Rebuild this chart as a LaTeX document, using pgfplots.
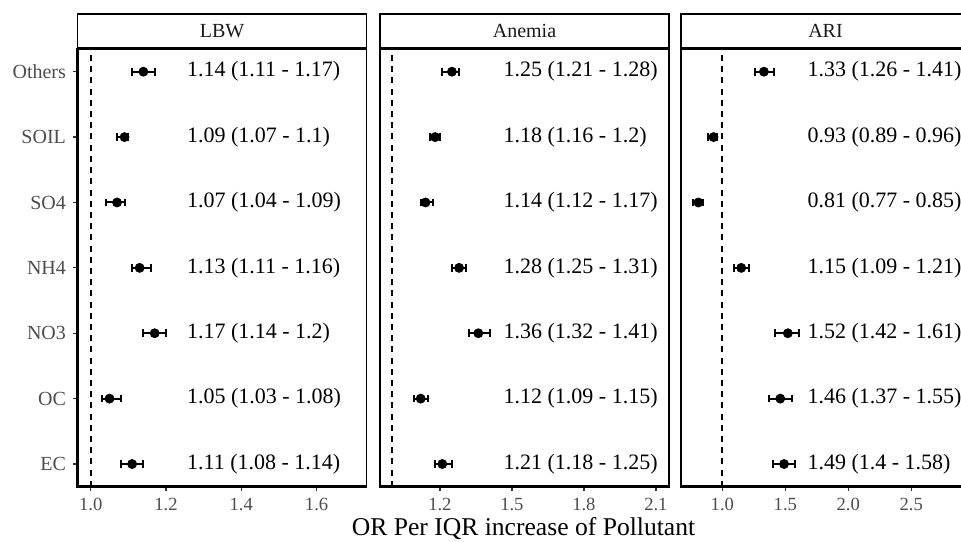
\documentclass[border=0pt]{standalone}
\usepackage{pgfplots}
\pgfplotsset{compat=1.18}
\usepackage{fontspec}
\setmainfont{Liberation Serif}
\definecolor{tickgray}{HTML}{4D4D4D}
\definecolor{tickmark}{HTML}{333333}
\definecolor{striptext}{HTML}{1A1A1A}

\pgfplotstableread{
y  or    ep    em
7  1.14  0.03  0.03
6  1.09  0.01  0.02
5  1.07  0.02  0.03
4  1.13  0.03  0.02
3  1.17  0.03  0.03
2  1.05  0.03  0.02
1  1.11  0.03  0.03
}\lbw
\pgfplotstableread{
y  or    ep    em
7  1.25  0.03  0.04
6  1.18  0.02  0.02
5  1.14  0.03  0.02
4  1.28  0.03  0.03
3  1.36  0.05  0.04
2  1.12  0.03  0.03
1  1.21  0.04  0.03
}\anemia
\pgfplotstableread{
y  or    ep    em
7  1.33  0.08  0.07
6  0.93  0.03  0.04
5  0.81  0.04  0.04
4  1.15  0.06  0.06
3  1.52  0.09  0.10
2  1.46  0.09  0.09
1  1.49  0.09  0.09
}\ari

\pgfplotsset{
  panel/.style={
    scale only axis, width=144.5pt, height=219.2pt,
    anchor=south west,
    ymin=0.653, ymax=7.358,
    axis line style={line width=0.9pt},
    tick style={line width=0.6pt, color=tickmark},
    tick align=outside, major tick length=2.25pt,
    xtick pos=bottom, ytick pos=left,
    ticklabel style={font=\fontsize{9.3}{11}\selectfont, text=tickgray},
    /pgf/number format/assume math mode=true,
    /pgf/number format/fixed, /pgf/number format/fixed zerofill,
    /pgf/number format/precision=1,
    clip=false,
  },
  pts/.style={black, only marks, mark=*, mark size=2.25pt,
    error bars/.cd, x dir=both, x explicit,
    error bar style={line width=1pt, black},
    error mark options={rotate=90, mark size=1.9pt, line width=1pt, black}},
  lbl/.style={only marks, mark=none, nodes near coords,
    point meta=explicit symbolic,
    every node near coord/.append style={anchor=west, inner xsep=0pt,
      font=\fontsize{11}{13}\selectfont, text=black}},
  vline/.style={black, line width=1pt, dash pattern=on 3pt off 2.6pt},
}

\newcommand{\strip}[1]{%
  \draw[line width=0.85pt, fill=white] (rel axis cs:0,1) rectangle (rel axis cs:1,1.0776);
  \node[text=striptext, font=\fontsize{10}{12}\selectfont] at (rel axis cs:0.5,1.0388) {#1};
  \draw[line width=1.4pt] (rel axis cs:0,1) -- (rel axis cs:1,1);
  \draw[line width=1.4pt] (rel axis cs:0,1) -- (rel axis cs:0,0) -- (rel axis cs:1,0);
}

\begin{document}
\begin{tikzpicture}
\useasboundingbox (0pt,0pt) rectangle (480.5pt,270.5pt);
\clip (0pt,0pt) rectangle (480.5pt,270.5pt);

% Panel 1: LBW
\begin{axis}[panel, at={(38.75pt,27.15pt)},
  xmin=0.965, xmax=1.7326,
  xtick={1.0,1.2,1.4,1.6},
  ytick={1,2,3,4,5,6,7},
  yticklabels={EC,OC,NO3,NH4,SO4,SOIL,Others},
  yticklabel style={font=\fontsize{10}{12}\selectfont, text=tickgray}]
\addplot[vline] coordinates {(1,0.653) (1,7.358)};
\addplot[pts] table[x=or, y=y, x error plus=ep, x error minus=em]{\lbw};
\addplot[lbl] coordinates {
(1.255,7) [1.14 (1.11 - 1.17)]
(1.255,6) [1.09 (1.07 - 1.1)]
(1.255,5) [1.07 (1.04 - 1.09)]
(1.255,4) [1.13 (1.11 - 1.16)]
(1.255,3) [1.17 (1.14 - 1.2)]
(1.255,2) [1.05 (1.03 - 1.08)]
(1.255,1) [1.11 (1.08 - 1.14)]
};
\strip{LBW}
\end{axis}

% Panel 2: Anemia
\begin{axis}[panel, at={(190pt,27.15pt)},
  xmin=0.9504, xmax=2.1546,
  xtick={1.2,1.5,1.8,2.1},
  ytick=\empty]
\addplot[vline] coordinates {(1,0.653) (1,7.358)};
\addplot[pts] table[x=or, y=y, x error plus=ep, x error minus=em]{\anemia};
\addplot[lbl] coordinates {
(1.464,7) [1.25 (1.21 - 1.28)]
(1.464,6) [1.18 (1.16 - 1.2)]
(1.464,5) [1.14 (1.12 - 1.17)]
(1.464,4) [1.28 (1.25 - 1.31)]
(1.464,3) [1.36 (1.32 - 1.41)]
(1.464,2) [1.12 (1.09 - 1.15)]
(1.464,1) [1.21 (1.18 - 1.25)]
};
\strip{Anemia}
\end{axis}

% Panel 3: ARI
\begin{axis}[panel, at={(340.5pt,27.15pt)},
  xmin=0.672, xmax=2.966,
  xtick={1.0,1.5,2.0,2.5},
  ytick=\empty]
\addplot[vline] coordinates {(1,0.653) (1,7.358)};
\addplot[pts] table[x=or, y=y, x error plus=ep, x error minus=em]{\ari};
\addplot[lbl] coordinates {
(1.673,7) [1.33 (1.26 - 1.41)]
(1.673,6) [0.93 (0.89 - 0.96)]
(1.673,5) [0.81 (0.77 - 0.85)]
(1.673,4) [1.15 (1.09 - 1.21)]
(1.673,3) [1.52 (1.42 - 1.61)]
(1.673,2) [1.46 (1.37 - 1.55)]
(1.673,1) [1.49 (1.4 - 1.58)]
};
\strip{ARI}
\end{axis}

\node[anchor=base, font=\fontsize{12.8}{15}\selectfont, inner sep=0pt] at (261.75pt,2.6pt) {OR Per IQR increase of Pollutant};
\end{tikzpicture}
\end{document}
